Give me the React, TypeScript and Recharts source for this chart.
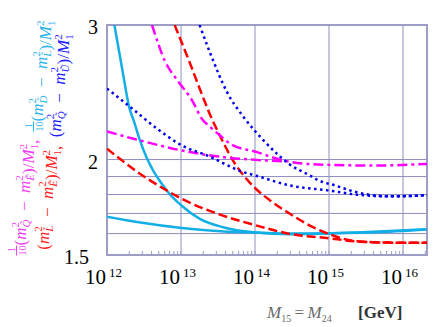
import React from "react";
import {
  LineChart,
  Line,
  XAxis,
  YAxis,
  ReferenceLine,
  ReferenceArea,
} from "recharts";

// ---------- data (x given as log10 of M15 = M24 in GeV) ----------
const cyanSteepLogM = [12.1, 12.2, 12.305, 12.36, 12.45, 12.81, 13.01, 13.26, 13.58, 14.01, 14.48, 15.01, 15.38, 16.32];
const cyanSteepVal = [3.0, 2.645, 2.332, 2.251, 2.112, 1.821, 1.74, 1.671, 1.63, 1.605, 1.597, 1.6, 1.605, 1.621];

const cyanFlatLogM = [12.0, 12.45, 13.01, 13.58, 14.01, 14.48, 15.01, 15.6, 16.32];
const cyanFlatVal = [1.683, 1.654, 1.627, 1.61, 1.605, 1.6, 1.602, 1.606, 1.62];

const magentaSteepLogM = [12.608, 12.788, 12.968, 13.15, 13.284, 13.396, 13.554, 13.666, 14.027, 14.386, 14.703, 15.014, 15.603, 16.324];
const magentaSteepVal = [3.0, 2.685, 2.527, 2.39, 2.26, 2.205, 2.14, 2.097, 2.045, 1.994, 1.974, 1.968, 1.964, 1.974];

const magentaFlatLogM = [12.0, 12.36, 12.45, 13.014, 13.666, 14.014, 14.386];
const magentaFlatVal = [2.177, 2.129, 2.118, 2.055, 2.01, 1.998, 1.99];

const redSteepLogM = [12.914, 13.126, 13.261, 13.396, 13.531, 13.711, 13.892, 14.014, 14.207, 14.477, 14.747, 15.014, 15.378, 15.828, 16.324];
const redSteepVal = [3.0, 2.666, 2.464, 2.285, 2.144, 1.988, 1.883, 1.83, 1.767, 1.697, 1.638, 1.596, 1.563, 1.557, 1.557];

const redFlatLogM = [12.0, 12.45, 12.811, 13.014, 13.576, 14.014, 14.477, 15.014, 15.378, 15.828, 16.324];
const redFlatVal = [2.066, 1.915, 1.821, 1.776, 1.688, 1.64, 1.598, 1.577, 1.562, 1.557, 1.557];

const blueSteepLogM = [13.251, 13.396, 13.622, 13.846, 14.095, 14.297, 14.477, 14.703, 14.927, 15.014, 15.378, 15.828, 16.324];
const blueSteepVal = [3.0, 2.754, 2.45, 2.273, 2.129, 2.035, 1.968, 1.915, 1.867, 1.858, 1.812, 1.79, 1.796];

const blueFlatLogM = [12.0, 12.315, 12.676, 13.014, 13.351, 13.846, 14.014, 14.477, 15.014, 15.378, 15.828, 16.324];
const blueFlatVal = [2.477, 2.343, 2.195, 2.086, 2.025, 1.925, 1.905, 1.849, 1.821, 1.799, 1.79, 1.796];

const xDecades = [12, 13, 14, 15, 16];
const yTickLabels = [1.5, 2, 3];
const yGridValues = [1.6, 1.7, 1.8, 1.9, 2];

const X_MIN = 1e12;
const X_MAX = 10 ** 16.324;

const toRows = (logM: number[], vals: number[]) =>
  logM.map((e, i) => ({ m: 10 ** e, v: vals[i] }));

// minor + major tick positions on x
const xTicks: number[] = [];
xDecades.forEach((d) => {
  for (let k = 1; k <= 9; k++) {
    const t = k * 10 ** d;
    if (t <= X_MAX) xTicks.push(t);
  }
});

const FRAME = "#9d9dc6";
const GRID = "#8e8ec0";
const SERIF = "'Liberation Serif', 'Times New Roman', serif";

const XTick = (props: any) => {
  const { x, y, payload } = props;
  const lg = Math.log10(payload.value);
  const isMajor = Math.abs(lg - Math.round(lg)) < 1e-6;
  return (
    <g>
      <line x1={x} x2={x} y1={y} y2={y - 4} stroke={FRAME} strokeWidth={1} />
      {isMajor && (
        <text fontFamily={SERIF} fill="#000">
          <tspan x={x - 1} y={y + 29} fontSize={21} textAnchor="end">10</tspan>
          <tspan x={x + 2} y={y + 22} fontSize={13} textAnchor="start">{Math.round(lg)}</tspan>
        </text>
      )}
    </g>
  );
};

const YTick = (props: any) => {
  const { x, y, payload } = props;
  const v = payload.value;
  if (!yTickLabels.includes(v)) return null;
  const dx = v === 1.5 ? -18 : -9;
  return (
    <text x={x + dx} y={y + 9} textAnchor="end" fontSize={20} fontFamily={SERIF} fill="#000">
      {v}
    </text>
  );
};

const SUP = 11;
const MINUS = "\u2002\u2212\u2002";
// a term like m^2_{Q~}
const Msq = ({ sub }: { sub: string }) => (
  <>
    <tspan fontStyle="italic">m</tspan>
    <tspan fontSize={SUP} dy={-7}>2</tspan>
    <tspan fontSize={SUP} dx={-5.5} dy={11} fontStyle="italic">{sub}</tspan>
    <tspan dy={-4}>{""}</tspan>
  </>
);
const M1sq = () => (
  <>
    <tspan fontStyle="italic">M</tspan>
    <tspan fontSize={SUP} dy={-7}>2</tspan>
    <tspan fontSize={SUP} dx={-5.5} dy={11}>1</tspan>
    <tspan dy={-4}>{""}</tspan>
  </>
);
const Tenth = () => (
  <>
    <tspan fontSize={10} dy={-6} dx={3}>1</tspan>
    <tspan fontSize={10} dx={-8} dy={11} textDecoration="overline">10</tspan>
    <tspan dy={-5} dx={2}>{""}</tspan>
  </>
);

const YLabel = () => (
  <g fontFamily={SERIF} fontSize={17}>
    <text transform="translate(21,141) rotate(-90)" textAnchor="middle">
      <tspan fill="#f040f0"><Tenth />(<Msq sub={"Q\u0303"} />{MINUS}<Msq sub={"E\u0303"} />)/<M1sq />,{"\u2002"}</tspan>
      <tspan fill="#2ab4ea"><Tenth />(<Msq sub={"D\u0303"} />{MINUS}<Msq sub={"L\u0303"} />)/<M1sq /></tspan>
    </text>
    <text transform="translate(49,142) rotate(-90)" textAnchor="middle">
      <tspan fill="#ff2020">(<Msq sub={"L\u0303"} />{MINUS}<Msq sub={"E\u0303"} />)/<M1sq />,{"\u2002"}</tspan>
      <tspan fill="#2020ff">(<Msq sub={"Q\u0303"} />{MINUS}<Msq sub={"U\u0303"} />)/<M1sq /></tspan>
    </text>
  </g>
);

const XLabel = () => (
  <text y={318} fontFamily={SERIF} fontSize={17}>
    <tspan x={267} fill="#6a6a6a" fontStyle="italic">M</tspan>
    <tspan fill="#6a6a6a" fontSize={10} dy={4}>15</tspan>
    <tspan fill="#6a6a6a" dy={-4}>{"\u2009=\u2009"}</tspan>
    <tspan fill="#6a6a6a" fontStyle="italic">M</tspan>
    <tspan fill="#6a6a6a" fontSize={10} dy={4}>24</tspan>
    <tspan x={358} y={318} fill="#333" fontWeight="bold" fontSize={17}>[GeV]</tspan>
  </text>
);

export default function App() {
  return (
    <div style={{ position: "absolute", left: 0, top: 0, width: 436, height: 327, background: "#fff" }}>
      <style>{`body{margin:0}`}</style>
      <LineChart width={436} height={327} margin={{ top: 25, right: 9, bottom: 0, left: 0 }}>
        <XAxis
          dataKey="m"
          type="number"
          scale="log"
          domain={[X_MIN, X_MAX]}
          allowDataOverflow
          ticks={xTicks}
          interval={0}
          tick={<XTick />}
          tickLine={false}
          axisLine={false}
          tickSize={0}
          tickMargin={0}
          height={72}
        />
        <YAxis
          dataKey="v"
          type="number"
          scale="log"
          domain={[1.5, 3]}
          allowDataOverflow
          ticks={[1.5, 1.6, 1.7, 1.8, 1.9, 2, 3]}
          interval={0}
          tick={<YTick />}
          tickLine={false}
          axisLine={false}
          tickSize={0}
          tickMargin={0}
          width={107}
        />
        {yGridValues.map((g) => (
          <ReferenceLine key={"h" + g} y={g} stroke={GRID} strokeWidth={1} />
        ))}
        {xDecades.slice(1).map((d) => (
          <ReferenceLine key={"v" + d} x={10 ** d} stroke={GRID} strokeWidth={1} />
        ))}
        <ReferenceArea x1={X_MIN} x2={X_MAX} y1={1.5} y2={3} fill="none" stroke={FRAME} strokeWidth={2} fillOpacity={0} />
        <Line data={toRows(cyanFlatLogM, cyanFlatVal)} dataKey="v" type="monotone" stroke="#12aee6" strokeWidth={2.5} dot={false} isAnimationActive={false} />
        <Line data={toRows(cyanSteepLogM, cyanSteepVal)} dataKey="v" type="monotone" stroke="#12aee6" strokeWidth={2.5} dot={false} isAnimationActive={false} />
        <Line data={toRows(redFlatLogM, redFlatVal)} dataKey="v" type="monotone" stroke="#ff0000" strokeWidth={2.5} strokeDasharray="9 4" dot={false} isAnimationActive={false} />
        <Line data={toRows(redSteepLogM, redSteepVal)} dataKey="v" type="monotone" stroke="#ff0000" strokeWidth={2.5} strokeDasharray="9 4" dot={false} isAnimationActive={false} />
        <Line data={toRows(magentaFlatLogM, magentaFlatVal)} dataKey="v" type="monotone" stroke="#ff00ff" strokeWidth={2.5} strokeDasharray="10 4 3 4" dot={false} isAnimationActive={false} />
        <Line data={toRows(magentaSteepLogM, magentaSteepVal)} dataKey="v" type="monotone" stroke="#ff00ff" strokeWidth={2.5} strokeDasharray="10 4 3 4" dot={false} isAnimationActive={false} />
        <Line data={toRows(blueFlatLogM, blueFlatVal)} dataKey="v" type="monotone" stroke="#0000ee" strokeWidth={2.5} strokeDasharray="2.5 3.5" dot={false} isAnimationActive={false} />
        <Line data={toRows(blueSteepLogM, blueSteepVal)} dataKey="v" type="monotone" stroke="#0000ee" strokeWidth={2.5} strokeDasharray="2.5 3.5" dot={false} isAnimationActive={false} />
      </LineChart>
      <svg width={436} height={327} style={{ position: "absolute", left: 0, top: 0, pointerEvents: "none" }}>
        <YLabel />
        <XLabel />
      </svg>
    </div>
  );
}
